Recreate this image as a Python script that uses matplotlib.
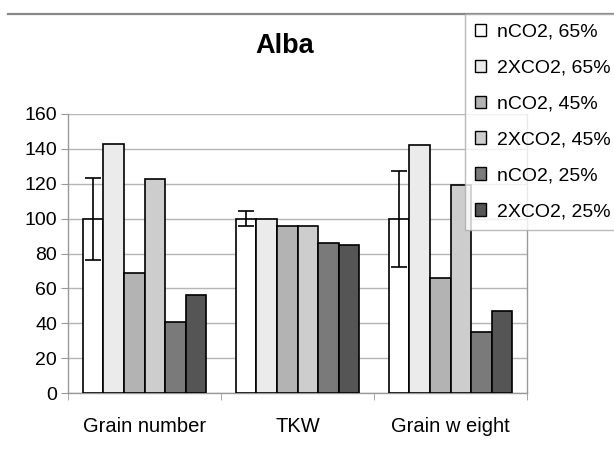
import matplotlib
matplotlib.use("Agg")
import matplotlib.pyplot as plt
from matplotlib.patches import Patch
from matplotlib.lines import Line2D
import numpy as np

plt.rcParams['font.family'] = ['Liberation Sans', 'DejaVu Sans']

categories = ["Grain number", "TKW", "Grain w eight"]
series_labels = ["nCO2, 65%", "2XCO2, 65%", "nCO2, 45%", "2XCO2, 45%", "nCO2, 25%", "2XCO2, 25%"]
values = [
    [100, 100, 100],   # nCO2, 65%
    [143, 100, 142],   # 2XCO2, 65%
    [69, 96, 66],      # nCO2, 45%
    [123, 96, 119],    # 2XCO2, 45%
    [41, 86, 35],      # nCO2, 25%
    [56, 85, 47],      # 2XCO2, 25%
]
control_err = [23.5, 4.5, 27.5]
colors = ["#ffffff", "#ebebeb", "#b3b3b3", "#cdcdcd", "#7a7a7a", "#555555"]
yticks = [0, 20, 40, 60, 80, 100, 120, 140, 160]

W, H = 614, 449
fig = plt.figure(figsize=(W / 100, H / 100), dpi=100)
ax = fig.add_axes([68 / W, 1 - 393 / H, (527 - 68) / W, (393 - 114) / H])

x = np.arange(len(categories))
bw = 0.134
n = len(values)
for i, (vals, col) in enumerate(zip(values, colors)):
    pos = x + (i - (n - 1) / 2) * bw
    ax.bar(pos, vals, width=bw, color=col, edgecolor="black", linewidth=1.2, zorder=3)
    if i == 0:
        ax.errorbar(pos, vals, yerr=control_err, fmt="none", ecolor="black",
                    elinewidth=1.2, capsize=6, capthick=1.2, zorder=4)

ax.set_xlim(-0.5, len(categories) - 0.5)
ax.set_ylim(0, 160)
ax.set_yticks(yticks)
ax.set_xticks(x)
ax.set_xticklabels(categories, fontsize=14.5)
ax.set_xticks(np.arange(len(categories) + 1) - 0.5, minor=True)
ax.tick_params(axis="x", which="major", length=0, pad=17)
ax.tick_params(axis="x", which="minor", length=5, color="#999999", direction="out")
ax.tick_params(axis="y", labelsize=14, length=5, color="#999999", pad=3)
ax.yaxis.grid(True, color="#b5b5b5", linewidth=1.0, zorder=0)
ax.set_axisbelow(True)
for s in ["left", "bottom", "right"]:
    ax.spines[s].set_color("#999999")
    ax.spines[s].set_linewidth(1.0)
ax.spines["top"].set_visible(False)

fig.text(285 / W, 1 - 46 / H, "Alba", fontsize=19.5, fontweight="bold",
         ha="center", va="center")

# outer frame line along the top
fig.add_artist(Line2D([8 / W, 1.0], [1 - 14 / H, 1 - 14 / H], transform=fig.transFigure,
                      color="#888888", linewidth=1.6))

handles = [Patch(facecolor=c, edgecolor="black", linewidth=1.0) for c in colors]
leg = fig.legend(handles, series_labels, loc="upper left",
                 bbox_to_anchor=(465 / W, 1 - 14 / H), bbox_transform=fig.transFigure,
                 fontsize=14, frameon=True, fancybox=False, borderaxespad=0,
                 handlelength=0.6, handleheight=0.6, handletextpad=0.55,
                 labelspacing=0.97, borderpad=0.5)
leg.get_frame().set_edgecolor("#aaaaaa")
leg.get_frame().set_linewidth(1.0)

fig.savefig("out.png", dpi=100)
